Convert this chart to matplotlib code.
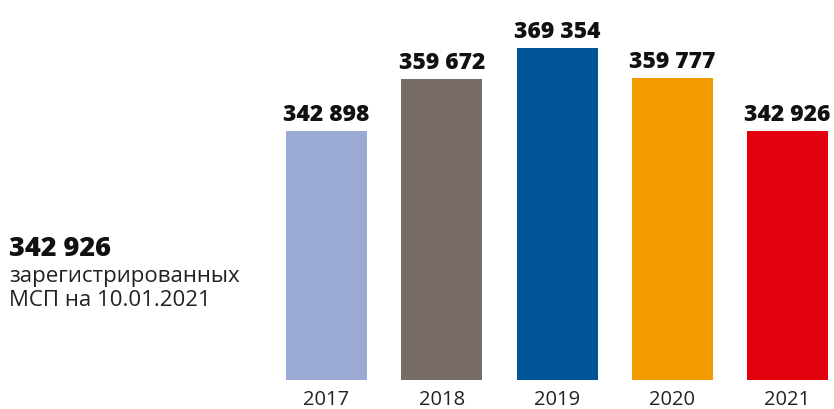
import matplotlib
matplotlib.use("Agg")
import matplotlib.pyplot as plt

years = ["2017", "2018", "2019", "2020", "2021"]
values = [342898, 359672, 369354, 359777, 342926]
value_labels = ["342 898", "359 672", "369 354", "359 777", "342 926"]
colors = ["#9BAAD2", "#786C68", "#005597", "#F39C00", "#E3000F"]
headline = "342 926"
caption_lines = ["зарегистрированных", "МСП на 10.01.2021"]

plt.rcParams['font.family'] = ['Open Sans', 'DejaVu Sans']

W, H = 834, 409
fig = plt.figure(figsize=(W / 100, H / 100), dpi=100)
ax_left = 268.9
ax_bottom = 380
ax_top = 20
ax = fig.add_axes([ax_left / W, (H - ax_bottom) / H, (W - ax_left) / W, (ax_bottom - ax_top) / H])

x = list(range(len(years)))
ax.bar(x, values, width=0.703, color=colors, zorder=2)
ax.set_xlim(-0.5, 4.403)
ax.set_ylim(263500, 378333)

for xi, v, lab in zip(x, values, value_labels):
    ax.annotate(lab, (xi, v), xytext=(0, 7), textcoords="offset points",
                ha="center", va="baseline", fontsize=16.5, fontweight="heavy", color="#111111")

ax.set_xticks(x)
ax.set_xticklabels(years, fontsize=14.5, color="#222222")
ax.tick_params(axis="x", length=0, pad=7)
ax.set_yticks([])
for s in ax.spines.values():
    s.set_visible(False)

fig.text(9.3 / W, 1 - 256 / H, headline, ha="left", va="baseline", fontsize=19.5, fontweight="heavy", color="#111111")
fig.text(9.3 / W, 1 - 282 / H, caption_lines[0], ha="left", va="baseline", fontsize=16, color="#222222")
fig.text(9.3 / W, 1 - 306 / H, caption_lines[1], ha="left", va="baseline", fontsize=16, color="#222222")

fig.savefig("out.png", dpi=100)
